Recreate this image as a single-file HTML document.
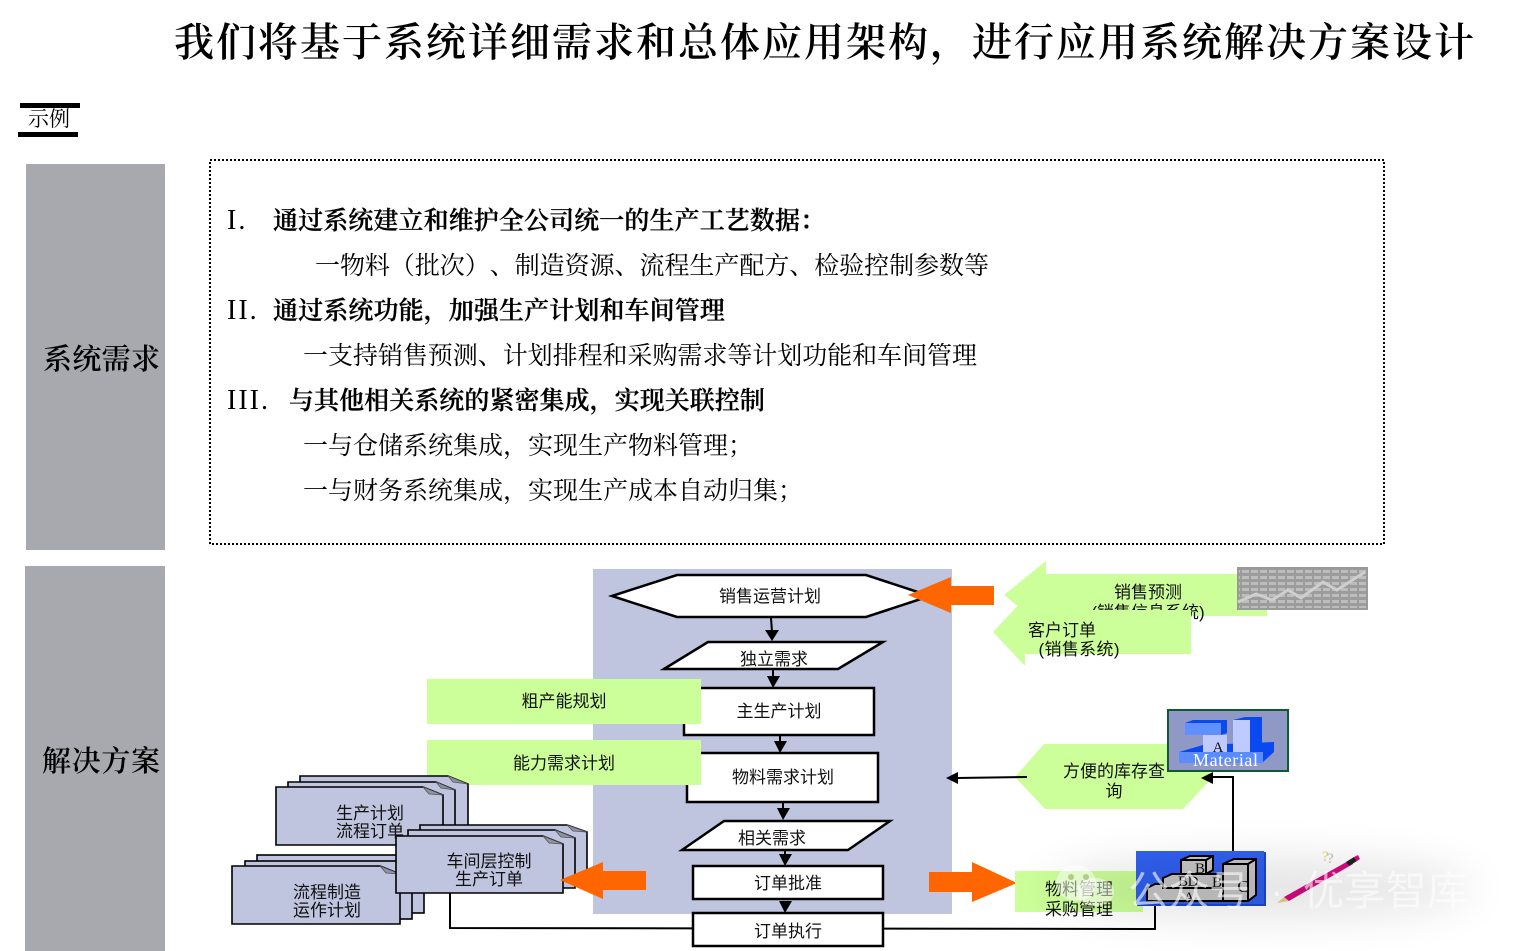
<!DOCTYPE html>
<html><head><meta charset="utf-8">
<style>
html,body{margin:0;padding:0;background:#fff}
svg{display:block;text-spacing-trim:space-all;font-feature-settings:"chws" 0,"palt" 0}
.s{font-family:"Liberation Serif","Noto Serif CJK SC",serif;fill:#000}
.b{font-weight:600;font-size:25px;stroke:#000;stroke-width:.25px;letter-spacing:.1px}
.r{font-size:25px}
.n{font-size:28px;letter-spacing:2px}
.l{font-family:"Liberation Sans","Noto Sans CJK SC",sans-serif;font-size:17px;fill:#111;text-anchor:middle}
.line{fill:none;stroke:#000;stroke-width:2}
.box{fill:#fff;stroke:#000;stroke-width:2.5}
.green{fill:#ccff99}
.or{fill:#ff6600}
.doc{fill:#bfc4df;stroke:#000;stroke-width:1.6}
.fold{fill:#8f93a8;stroke:#555;stroke-width:.8}
</style></head><body>
<svg width="1517" height="951" viewBox="0 0 1517 951" xmlns="http://www.w3.org/2000/svg">
<defs>
<filter id="bl" x="-30%" y="-100%" width="160%" height="300%"><feGaussianBlur stdDeviation="22"/></filter>
<pattern id="grid" width="9" height="6" patternUnits="userSpaceOnUse"><rect width="9" height="6" fill="#bdbdbd"/><rect x="7" width="2" height="6" fill="#9c9c9c"/><rect y="3" width="9" height="3" fill="#9c9c9c"/></pattern>
</defs>
<rect width="1517" height="951" fill="#fff"/>

<text class="s" x="174" y="56" font-size="40" font-weight="600" textLength="1300" lengthAdjust="spacing">我们将基于系统详细需求和总体应用架构，进行应用系统解决方案设计</text>

<rect x="20" y="103" width="60" height="5" fill="#000"/>
<rect x="18" y="132" width="60" height="5" fill="#000"/>
<text class="s" x="28" y="126" font-size="21" textLength="42">示例</text>

<rect x="26" y="164" width="139" height="386" fill="#a8a9ae"/>
<rect x="25" y="566" width="140" height="385" fill="#a8a9ae"/>
<text class="s" x="43" y="369" font-size="29" font-weight="600" textLength="117">系统需求</text>
<text class="s" x="42" y="771" font-size="29" font-weight="600" textLength="118">解决方案</text>

<rect x="210" y="160" width="1174" height="384" fill="#fff" stroke="#000" stroke-width="2" stroke-dasharray="2 2"/>
<text class="s n" x="227" y="229">I.</text>
<text class="s b" x="273" y="229">通过系统建立和维护全公司统一的生产工艺数据：</text>
<text class="s r" x="315" y="274" textLength="674">一物料（批次）、制造资源、流程生产配方、检验控制参数等</text>
<text class="s n" x="227" y="319">II.</text>
<text class="s b" x="273" y="319" textLength="452">通过系统功能，加强生产计划和车间管理</text>
<text class="s r" x="303" y="364" textLength="674">一支持销售预测、计划排程和采购需求等计划功能和车间管理</text>
<text class="s n" x="227" y="409">III.</text>
<text class="s b" x="289" y="409" textLength="476">与其他相关系统的紧密集成，实现关联控制</text>
<text class="s r" x="303" y="454">一与仓储系统集成，实现生产物料管理；</text>
<text class="s r" x="303" y="499">一与财务系统集成，实现生产成本自动归集；</text>

<!-- connector behind -->
<polyline class="line" points="450,893 450,928 1155,929 1155,906"/>

<rect x="593" y="569" width="359" height="345" fill="#bfc4df"/>

<polygon points="612,596 677,575 866,575 930,596 866,617 677,617" class="box"/>
<polygon points="664,669 708,642 883,642 838,669" class="box"/>
<rect x="684" y="688" width="190" height="47" class="box"/>
<rect x="687" y="753" width="191" height="49" class="box"/>
<polygon points="682,850 724,821 890,821 848,850" class="box"/>
<rect x="693" y="866" width="190" height="33" class="box"/>
<rect x="693" y="913" width="190" height="33" class="box"/>

<g fill="#000" stroke="#000" stroke-width="2">
<line x1="771" y1="618" x2="772" y2="632"/><polygon points="765,630 779,630 772,641" stroke="none"/>
<line x1="773" y1="670" x2="773" y2="678"/><polygon points="767,676 780,676 773,688" stroke="none"/>
<line x1="780" y1="736" x2="780" y2="743"/><polygon points="774,741 787,741 780,753" stroke="none"/>
<line x1="783" y1="803" x2="783" y2="810"/><polygon points="777,808 790,808 783,820" stroke="none"/>
<line x1="785" y1="851" x2="785" y2="856"/><polygon points="779,854 792,854 785,866" stroke="none"/>
<polygon points="779,901 792,901 785,913" stroke="none"/>
</g>

<text class="l" x="770" y="602">销售运营计划</text>
<text class="l" x="774" y="665">独立需求</text>
<text class="l" x="779" y="717">主生产计划</text>
<text class="l" x="783" y="783">物料需求计划</text>
<text class="l" x="772" y="844">相关需求</text>
<text class="l" x="788" y="889">订单批准</text>
<text class="l" x="788" y="937">订单执行</text>

<rect x="427" y="679" width="274" height="45" class="green"/>
<rect x="427" y="740" width="274" height="45" class="green"/>
<text class="l" x="564" y="707">粗产能规划</text>
<text class="l" x="564" y="769">能力需求计划</text>

<!-- doc group 1 -->
<g>
<polygon class="doc" points="300,776 448,776 468,784 468,830 300,830"/><polygon class="fold" points="448,776 468,784 453,782"/>
<polygon class="doc" points="288,782 436,782 455,790 455,838 288,838"/><polygon class="fold" points="436,782 455,790 441,788"/>
<polygon class="doc" points="276,787 423,787 443,795 443,845 276,845"/><polygon class="fold" points="423,787 443,795 429,794"/>
<text class="l" x="370" y="819">生产计划</text>
<text class="l" x="370" y="837">流程订单</text>
</g>
<!-- doc group 2 -->
<g>
<rect class="doc" x="257" y="855" width="167" height="58"/>
<rect class="doc" x="245" y="861" width="167" height="58"/>
<polygon class="doc" points="232,866 380,866 400,874 400,924 232,924"/><polygon class="fold" points="380,866 400,874 386,873"/>
<text class="l" x="327" y="898">流程制造</text>
<text class="l" x="327" y="916">运作计划</text>
</g>
<!-- doc group 3 -->
<g>
<polygon class="doc" points="420,825 567,825 587,832 587,883 420,883"/><polygon class="fold" points="567,825 587,832 573,831"/>
<polygon class="doc" points="408,830 555,830 575,838 575,888 408,888"/><polygon class="fold" points="555,830 575,838 561,837"/>
<polygon class="doc" points="396,836 543,836 563,844 563,893 396,893"/><polygon class="fold" points="543,836 563,844 549,843"/>
<text class="l" x="489" y="867">车间层控制</text>
<text class="l" x="489" y="885">生产订单</text>
</g>

<!-- orange -->
<polygon class="or" points="908,595 951,577 951,586 994,586 994,605 951,605 951,613"/>
<polygon class="or" points="560,880 603,862 603,871 646,871 646,890 603,890 603,899"/>
<polygon class="or" points="929,872 972,872 972,862 1017,883 972,902 972,892 929,892"/>

<!-- right green arrows -->
<polygon class="green" points="1004,595 1046,561 1046,574 1267,574 1267,616 1046,616 1046,629"/>
<text class="l" x="1148" y="598">销售预测</text>
<text class="l" x="1148" y="618">(销售信息系统)</text>
<polygon class="green" points="993,632 1025,598 1025,610 1191,610 1191,654 1025,654 1025,666"/>
<text class="l" x="1062" y="636">客户订单</text>
<text class="l" x="1079" y="655" textLength="81">(销售系统)</text>

<rect x="1238" y="568" width="129" height="41" fill="url(#grid)" stroke="#999" stroke-width="2"/>
<polyline points="1238,602 1256,594 1272,600 1288,590 1301,598 1323,582 1337,590 1365,572" fill="none" stroke="#cfcfcf" stroke-width="3"/>

<polygon class="green" points="1015,777 1044,744 1183,744 1213,777 1183,809 1045,809"/>
<text class="l" x="1114" y="777">方便的库存查</text>
<text class="l" x="1114" y="797">询</text>

<line x1="1027" y1="777" x2="957" y2="778" stroke="#000" stroke-width="2"/>
<polygon points="946,778 958,772 958,784" fill="#000"/>
<polyline class="line" points="1212,777 1233,777 1233,852"/>
<polygon points="1201,778 1213,772 1213,784" fill="#000"/>

<!-- Material -->
<rect x="1168" y="710" width="120" height="61" fill="#9098c6" stroke="#0e5a30" stroke-width="2"/>
<polygon points="1179,752 1203,745 1274,742 1274,752 1263,762 1179,762" fill="#0a48f0"/>
<polygon points="1185,723 1193,720 1227,720 1227,733 1221,735 1185,735" fill="#0a48f0"/>
<rect x="1185" y="723" width="36" height="12" fill="#6090ff"/>
<rect x="1203" y="735" width="24" height="18" fill="#bfcaff"/>
<polygon points="1233,720 1245,717 1262,717 1262,745 1250,752 1233,752" fill="#0a48f0"/>
<rect x="1233" y="720" width="17" height="32" fill="#bfcaff"/>
<rect x="1179" y="752" width="84" height="11" fill="#5a8cff"/>
<text x="1218" y="752" font-family="Liberation Serif,serif" font-size="15" text-anchor="middle" fill="#111">A</text>
<text x="1193" y="766" font-family="Liberation Serif,serif" font-size="18" textLength="65" fill="#fff">Material</text>

<!-- material mgmt -->
<rect x="1015" y="871" width="128" height="41" class="green"/>
<text class="l" x="1079" y="895">物料管理</text>
<text class="l" x="1079" y="915">采购管理</text>

<!-- blue ABC box -->
<rect x="1137" y="852" width="129" height="54" fill="#1e48c8"/>
<rect x="1136" y="851" width="128" height="53" fill="#3060f0"/>
<g stroke="#000" stroke-width="2" fill="#c8c8c8">
<polygon points="1147,901 1147,888 1155,884 1223,884 1223,901"/>
<polygon points="1163,888 1163,878 1172,874 1223,874 1223,888"/>
<polygon points="1181,874 1181,860 1190,856 1213,856 1213,870 1206,874"/>
<line x1="1181" y1="860" x2="1206" y2="860"/>
<line x1="1206" y1="860" x2="1213" y2="856"/>
<line x1="1206" y1="860" x2="1206" y2="874"/>
<line x1="1163" y1="888" x2="1223" y2="888"/>
<polygon points="1223,901 1223,864 1234,859 1256,859 1256,895 1248,901"/>
<line x1="1223" y1="864" x2="1248" y2="864"/>
<line x1="1248" y1="864" x2="1256" y2="859"/>
<line x1="1248" y1="864" x2="1248" y2="901"/>
</g>
<g font-family="Liberation Serif,serif" font-size="15" fill="#111" text-anchor="middle">
<text x="1200" y="873">B</text><text x="1183" y="886">B</text><text x="1193" y="886">D</text><text x="1217" y="887">B</text><text x="1189" y="902">A</text><text x="1243" y="892" font-size="17">C</text>
</g>

<!-- pencil -->
<polygon points="1277,903 1284,897 1289,901" fill="#e8d78a"/>
<polygon points="1284,897 1350,860 1353,864 1289,901" fill="#d80a82"/>
<polygon points="1346,862 1354,857 1357,861 1349,866" fill="#222"/>
<polygon points="1354,857 1358,855 1360,859 1357,861" fill="#d80a82"/>
<text x="1322" y="861" font-family="Liberation Serif,serif" font-size="15" fill="#e0d860">?</text>
<text x="1327" y="863" font-family="Liberation Serif,serif" font-size="15" fill="#bbb">?</text>

<!-- watermark -->
<ellipse cx="1260" cy="888" rx="215" ry="28" fill="#000" opacity=".11" filter="url(#bl)"/>
<ellipse cx="1076" cy="883" rx="20" ry="18" fill="#fff" opacity=".5"/>
<ellipse cx="1095" cy="892" rx="19" ry="14" fill="#fff" opacity=".5"/>
<circle cx="1071" cy="877" r="3" fill="#b5c98f"/><circle cx="1086" cy="877" r="3" fill="#b5c98f"/>
<text x="1128" y="905" font-family="'Liberation Sans','Noto Sans CJK SC',sans-serif" font-size="41" fill="#fff" opacity=".6" textLength="122">公众号</text>
<text x="1270" y="905" font-family="'Liberation Sans','Noto Sans CJK SC',sans-serif" font-size="41" fill="#fff" opacity=".6">·</text>
<text x="1303" y="905" font-family="'Liberation Sans','Noto Sans CJK SC',sans-serif" font-size="41" fill="#fff" opacity=".6" textLength="165">优享智库</text>
</svg>
</body></html>
